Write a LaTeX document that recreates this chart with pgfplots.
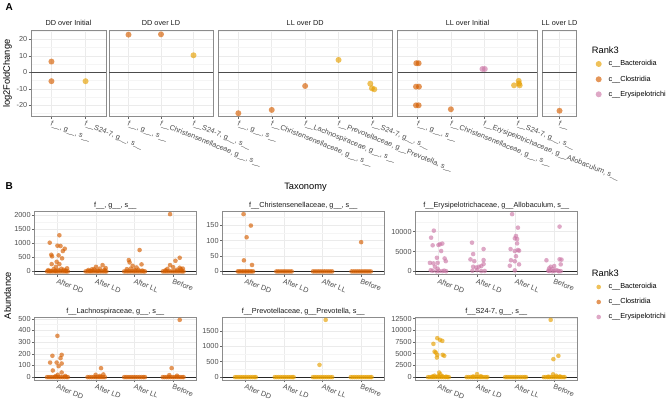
\documentclass[border=0pt]{standalone}
\usepackage{fontspec}
\setmainfont{Liberation Sans}
\usepackage{pgfplots}
\pgfplotsset{compat=1.18}
\definecolor{cBac}{HTML}{E69F00}
\definecolor{cClo}{HTML}{D55E00}
\definecolor{cEry}{HTML}{CC79A7}
\definecolor{gtick}{HTML}{4D4D4D}
\definecolor{gstrip}{HTML}{1A1A1A}
\newcommand{\ts}{\fontsize{7.3}{8.5}\selectfont}
\newcommand{\tls}{\fontsize{9.3}{11}\selectfont}
\pgfplotsset{
  gg/.style={
    scale only axis,
    axis line style={draw=black!45, line width=0.5pt},
    tick align=outside,
    xtick pos=left, ytick pos=left,
    major tick length=2.3pt,
    minor tick length=0pt,
    tick style={draw=black!60, line width=0.45pt},
    xmajorgrids, ymajorgrids, yminorgrids,
    major grid style={draw=black!8, line width=0.5pt},
    minor grid style={draw=black!4, line width=0.3pt},
    tick label style={font=\ts, text=gtick},
    yticklabel style={inner sep=1.2pt},
    xticklabel style={rotate=-22, anchor=north west, inner sep=1pt},
    scaled y ticks=false, scaled x ticks=false,
    xmin=0.4, anchor=south west,
  },
  gga/.style={gg, height=86pt, ymin=-26.9, ymax=25.2,
    ytick={-20,-10,0,10,20}, minor ytick={-25,-15,-5,5,15,25}},
  ggan/.style={gga, yticklabels={{},{},{},{},{}}, y tick style={draw=none}},
  ggb/.style={gg, width=162pt, height=63pt, xmax=4.6, xtick={1,2,3,4},
    xticklabels={After DD,After LD,After LL,Before}},
  ptA/.style={only marks, mark=*, mark size=3pt, color=#1,
    mark options={fill=#1, draw=#1, draw opacity=0, fill opacity=0.65}},
  ptB/.style={only marks, mark=*, mark size=2.3pt, color=#1,
    mark options={fill=#1, draw=#1, draw opacity=0, fill opacity=0.65}},
  zA/.style={black!70, line width=0.6pt, forget plot},
  zB/.style={black!85, line width=0.6pt, forget plot},
}
\begin{document}
\begin{tikzpicture}
\useasboundingbox (0,0) rectangle (669pt,404pt);

% ================= Panel A =================
\begin{axis}[gga, yticklabels={-20,-10,0,10,20}, at={(31pt,287.3pt)}, width=75pt, xmax=2.6, xtick={1,2},
  xticklabels={{f\_\_, g\_\_, s\_\_},{f\_\_S24-7, g\_\_, s\_\_}}]
\addplot[zA] coordinates {(0.4,0) (2.6,0)};
\addplot[ptA=cClo] coordinates {(1,6.5) (1,-5.4)};
\addplot[ptA=cBac] coordinates {(2,-5.4)};
\end{axis}

\begin{axis}[ggan, at={(109pt,287.3pt)}, width=104pt, xmax=3.6, xtick={1,2,3},
  xticklabels={{f\_\_, g\_\_, s\_\_},{f\_\_Christensenellaceae, g\_\_, s\_\_},{f\_\_S24-7, g\_\_, s\_\_}}]
\addplot[zA] coordinates {(0.4,0) (3.6,0)};
\addplot[ptA=cClo] coordinates {(1,22.8) (2,23.0)};
\addplot[ptA=cBac] coordinates {(3,10.3)};
\end{axis}

\begin{axis}[ggan, at={(218.3pt,287.3pt)}, width=173.7pt, xmax=5.6, xtick={1,2,3,4,5},
  xticklabels={{f\_\_, g\_\_, s\_\_},{f\_\_Christensenellaceae, g\_\_, s\_\_},{f\_\_Lachnospiraceae, g\_\_, s\_\_},{f\_\_Prevotellaceae, g\_\_Prevotella, s\_\_},{f\_\_S24-7, g\_\_, s\_\_}}]
\addplot[zA] coordinates {(0.4,0) (5.6,0)};
\addplot[ptA=cClo] coordinates {(1,-24.8) (2,-22.8) (3,-8.3)};
\addplot[ptA=cBac] coordinates {(4,7.5) (4.95,-6.9) (5.0,-9.7) (5.07,-10.3)};
\end{axis}

\begin{axis}[ggan, at={(397.7pt,287.3pt)}, width=139.6pt, xmax=4.6, xtick={1,2,3,4},
  xticklabels={{f\_\_, g\_\_, s\_\_},{f\_\_Christensenellaceae, g\_\_, s\_\_},{f\_\_Erysipelotrichaceae, g\_\_Allobaculum, s\_\_},{f\_\_S24-7, g\_\_, s\_\_}}]
\addplot[zA] coordinates {(0.4,0) (4.6,0)};
\addplot[ptA=cClo] coordinates {(0.96,5.5) (1.03,5.5) (0.95,-8.7) (1.04,-8.7) (0.95,-20) (1.03,-20) (2,-22.4)};
\addplot[ptA=cEry] coordinates {(2.95,2) (3.02,2)};
\addplot[ptA=cBac] coordinates {(4.04,-5.2) (3.9,-7.9) (4.07,-7.9) (4.05,-6.8)};
\end{axis}

\begin{axis}[ggan, at={(542.3pt,287.3pt)}, width=34.4pt, xmax=1.6, xtick={1},
  xticklabels={{f\_\_, g\_\_, s\_\_}}]
\addplot[zA] coordinates {(0.4,0) (1.6,0)};
\addplot[ptA=cClo] coordinates {(1,-23.3)};
\end{axis}

% ================= Panel B row 1 =================
\begin{axis}[ggb, at={(34.3pt,129.7pt)}, ymin=-101, ymax=2126,
  ytick={0,500,1000,1500,2000}, yticklabels={0,500,1000,1500,2000},
  minor ytick={250,750,1250,1750}]
\addplot[ptB=cClo] table[row sep=\\] {x y\\
0.73 0\\0.78 0\\0.83 0\\0.88 0\\0.93 0\\0.98 0\\1.03 0\\1.08 0\\1.13 0\\1.18 0\\1.23 0\\1.27 0\\
0.76 45\\0.90 80\\1.10 95\\1.21 30\\0.95 20\\1.16 60\\1.25 110\\0.82 15\\1.02 50\\
0.80 1016\\1.05 1279\\1.00 910\\1.08 899\\1.19 803\\1.14 721\\0.84 590\\0.86 533\\1.03 568\\1.12 462\\0.98 341\\0.85 259\\1.05 259\\0.96 163\\
1.73 0\\1.78 0\\1.83 0\\1.88 0\\1.93 0\\1.98 0\\2.03 0\\2.08 0\\2.13 0\\2.18 0\\2.23 0\\2.27 0\\
1.80 50\\1.90 80\\2.10 100\\2.22 60\\2.25 120\\1.85 20\\2.05 30\\1.95 70\\2.00 163\\2.17 224\\
2.73 0\\2.78 0\\2.83 0\\2.88 0\\2.93 0\\2.98 0\\3.03 0\\3.08 0\\3.13 0\\3.18 0\\3.23 0\\3.27 0\\
2.80 80\\3.10 60\\3.20 30\\2.90 100\\3.00 50\\2.85 401\\2.87 320\\3.13 757\\3.18 249\\2.95 200\\3.05 140\\
3.73 0\\3.78 0\\3.83 0\\3.88 0\\3.93 0\\3.98 0\\4.03 0\\4.08 0\\4.13 0\\4.18 0\\4.23 0\\4.27 0\\
3.92 2025\\4.17 483\\4.06 377\\3.92 224\\4.17 130\\4.00 150\\3.85 90\\4.25 100\\3.80 40\\4.10 60\\4.20 80\\
};
\addplot[zB] coordinates {(0.4,0) (4.6,0)};
\end{axis}

\begin{axis}[ggb, at={(222.3pt,129.7pt)}, ymin=-9.3, ymax=195.3,
  ytick={0,50,100,150}, yticklabels={0,50,100,150},
  minor ytick={25,75,125,175}]
\addplot[ptB=cClo] table[row sep=\\] {x y\\
0.80 0\\0.84 0\\0.88 0\\0.92 0\\0.96 0\\1.00 0\\1.04 0\\1.08 0\\1.12 0\\1.16 0\\1.20 0\\
0.95 186\\1.14 149\\1.03 111\\0.96 36\\1.17 21\\
1.80 0\\1.85 0\\1.90 0\\1.95 0\\2.00 0\\2.05 0\\2.10 0\\2.15 0\\2.20 0\\
2.75 0\\2.80 0\\2.85 0\\2.90 0\\2.95 0\\3.00 0\\3.05 0\\3.10 0\\3.15 0\\3.20 0\\3.25 0\\
3.75 0\\3.80 0\\3.85 0\\3.90 0\\3.95 0\\4.00 0\\4.05 0\\4.10 0\\4.15 0\\4.20 0\\4.25 0\\
4.00 95\\
};
\addplot[zB] coordinates {(0.4,0) (4.6,0)};
\end{axis}

\begin{axis}[ggb, at={(415.3pt,129.7pt)}, ymin=-720, ymax=15110,
  ytick={0,5000,10000}, yticklabels={0,5000,10000},
  minor ytick={2500,7500,12500}]
\addplot[ptB=cEry] table[row sep=\\] {x y\\
0.88 10250\\0.81 8480\\0.85 6560\\1.00 6650\\1.04 6820\\1.10 7000\\1.07 5130\\0.96 3430\\1.16 3260\\1.19 2580\\0.78 2150\\0.87 2000\\0.98 2150\\0.91 1180\\0.98 670\\0.85 170\\0.80 300\\1.02 100\\1.10 80\\1.15 200\\0.95 30\\1.20 50\\
1.87 7230\\2.17 5630\\1.90 4370\\1.83 3030\\1.93 2580\\2.17 2860\\1.90 1180\\1.98 1000\\2.05 1180\\2.11 1350\\2.17 1860\\2.00 340\\1.88 170\\2.11 80\\2.20 120\\
2.91 14390\\3.06 11000\\3.01 8900\\2.98 8310\\3.04 8140\\3.04 7050\\2.87 5620\\3.06 5390\\2.98 5130\\3.09 5220\\3.01 3820\\2.88 2810\\2.98 2560\\2.85 1430\\3.09 1770\\2.98 260\\
4.14 11260\\3.80 2810\\4.14 3050\\4.19 2970\\4.17 1770\\3.91 1180\\3.87 760\\4.00 1350\\3.95 590\\4.05 340\\4.10 170\\3.87 100\\4.17 60\\4.12 30\\3.95 40\\4.00 120\\3.85 200\\
};
\addplot[zB] coordinates {(0.4,0) (4.6,0)};
\end{axis}

% ================= Panel B row 2 =================
\begin{axis}[ggb, at={(34.3pt,24pt)}, ymin=-24.6, ymax=515.6,
  ytick={0,100,200,300,400,500}, yticklabels={0,100,200,300,400,500},
  minor ytick={50,150,250,350,450}]
\addplot[ptB=cClo] table[row sep=\\] {x y\\
0.73 0\\0.78 0\\0.83 0\\0.88 0\\0.93 0\\0.98 0\\1.03 0\\1.08 0\\1.13 0\\1.18 0\\1.23 0\\1.27 0\\
1.00 354\\0.87 183\\1.11 191\\1.08 163\\0.81 125\\0.98 125\\1.11 117\\1.03 94\\0.88 57\\1.11 40\\1.01 20\\0.95 8\\1.20 10\\
1.78 0\\1.83 0\\1.88 0\\1.93 0\\1.98 0\\2.03 0\\2.08 0\\2.13 0\\2.18 0\\2.23 0\\
2.13 77\\2.19 23\\1.99 20\\2.10 10\\
2.73 0\\2.78 0\\2.83 0\\2.88 0\\2.93 0\\2.98 0\\3.03 0\\3.08 0\\3.13 0\\3.18 0\\3.23 0\\3.27 0\\
3.73 0\\3.78 0\\3.83 0\\3.88 0\\3.93 0\\3.98 0\\4.03 0\\4.08 0\\4.13 0\\4.18 0\\4.23 0\\4.27 0\\
4.17 491\\3.96 77\\3.90 17\\4.10 12\\
};
\addplot[zB] coordinates {(0.4,0) (4.6,0)};
\end{axis}

\begin{axis}[ggb, at={(222.3pt,24pt)}, ymin=-93, ymax=1949,
  ytick={0,500,1000,1500}, yticklabels={0,500,1000,1500},
  minor ytick={250,750,1250,1750}]
\addplot[ptB=cBac] table[row sep=\\] {x y\\
0.73 0\\0.78 0\\0.83 0\\0.88 0\\0.93 0\\0.98 0\\1.03 0\\1.08 0\\1.13 0\\1.18 0\\1.23 0\\1.27 0\\
1.76 0\\1.81 0\\1.86 0\\1.91 0\\1.96 0\\2.01 0\\2.06 0\\2.11 0\\2.16 0\\2.21 0\\2.25 0\\
2.75 0\\2.80 0\\2.85 0\\2.90 0\\2.95 0\\3.00 0\\3.05 0\\3.10 0\\3.15 0\\3.20 0\\3.25 0\\
3.08 1856\\2.92 398\\
3.73 0\\3.78 0\\3.83 0\\3.88 0\\3.93 0\\3.98 0\\4.03 0\\4.08 0\\4.13 0\\4.18 0\\4.23 0\\4.27 0\\
};
\addplot[zB] coordinates {(0.4,0) (4.6,0)};
\end{axis}

\begin{axis}[ggb, at={(415.3pt,24pt)}, ymin=-611, ymax=12831,
  ytick={0,2500,5000,7500,10000,12500}, yticklabels={0,2500,5000,7500,10000,12500},
  minor ytick={1250,3750,6250,8750,11250}]
\addplot[ptB=cBac] table[row sep=\\] {x y\\
0.73 0\\0.78 0\\0.83 0\\0.88 0\\0.93 0\\0.98 0\\1.03 0\\1.08 0\\1.13 0\\1.18 0\\1.23 0\\1.27 0\\
0.97 8320\\1.04 7960\\1.10 7740\\0.87 7100\\0.90 5460\\0.93 5250\\0.97 4760\\0.96 4180\\1.11 4760\\1.15 4550\\1.02 980\\1.05 600\\0.90 300\\1.10 200\\0.85 150\\1.20 100\\1.00 250\\
1.73 0\\1.78 0\\1.83 0\\1.88 0\\1.93 0\\1.98 0\\2.03 0\\2.08 0\\2.13 0\\2.18 0\\2.23 0\\2.27 0\\
2.00 650\\2.10 200\\1.90 150\\
2.73 0\\2.78 0\\2.83 0\\2.88 0\\2.93 0\\2.98 0\\3.03 0\\3.08 0\\3.13 0\\3.18 0\\3.23 0\\3.27 0\\
3.73 0\\3.78 0\\3.83 0\\3.88 0\\3.93 0\\3.98 0\\4.03 0\\4.08 0\\4.13 0\\4.18 0\\4.23 0\\4.27 0\\
3.91 12220\\3.98 3840\\4.11 4550\\3.97 600\\4.05 300\\4.15 150\\3.85 100\\
};
\addplot[zB] coordinates {(0.4,0) (4.6,0)};
\end{axis}

% ================= Overlay: titles, strips, legends =================
\begin{axis}[at={(0pt,0pt)}, anchor=south west, scale only axis, width=669pt, height=404pt,
  xmin=0, xmax=669, ymin=0, ymax=404, y dir=reverse, hide axis, clip=false]
\node[anchor=base west, font=\bfseries\fontsize{10}{12}\selectfont] at (axis cs:2,11) {A};
\node[anchor=base west, font=\bfseries\fontsize{10}{12}\selectfont] at (axis cs:2,189) {B};
\node[rotate=90, font=\tls] at (axis cs:7.5,73.7) {log2FoldChange};
\node[rotate=90, font=\tls] at (axis cs:7.5,295.5) {Abundance};
\node[font=\tls] at (axis cs:305.5,187) {Taxonomy};
% strips A
\node[anchor=base, font=\ts, text=gstrip] at (axis cs:68.5,26) {DD over Initial};
\node[anchor=base, font=\ts, text=gstrip] at (axis cs:161,26) {DD over LD};
\node[anchor=base, font=\ts, text=gstrip] at (axis cs:305.2,26) {LL over DD};
\node[anchor=base, font=\ts, text=gstrip] at (axis cs:467.5,26) {LL over Initial};
\node[anchor=base, font=\ts, text=gstrip] at (axis cs:559.5,26) {LL over LD};
% strips B
\node[anchor=base, font=\ts, text=gstrip] at (axis cs:115.3,207.5) {f\_\_, g\_\_, s\_\_};
\node[anchor=base, font=\ts, text=gstrip] at (axis cs:303.3,207.5) {f\_\_Christensenellaceae, g\_\_, s\_\_};
\node[anchor=base, font=\ts, text=gstrip] at (axis cs:496.3,207.5) {f\_\_Erysipelotrichaceae, g\_\_Allobaculum, s\_\_};
\node[anchor=base, font=\ts, text=gstrip] at (axis cs:115.3,313) {f\_\_Lachnospiraceae, g\_\_, s\_\_};
\node[anchor=base, font=\ts, text=gstrip] at (axis cs:303.3,313) {f\_\_Prevotellaceae, g\_\_Prevotella, s\_\_};
\node[anchor=base, font=\ts, text=gstrip] at (axis cs:496.3,313) {f\_\_S24-7, g\_\_, s\_\_};
% legend A
\node[anchor=base west, font=\tls, inner sep=0pt] at (axis cs:591.7,53.5) {Rank3};
\addplot[ptA=cBac] coordinates {(598.7,64)};
\addplot[ptA=cClo] coordinates {(598.7,79.3)};
\addplot[ptA=cEry] coordinates {(598.7,94.3)};
\node[anchor=west, font=\ts, inner sep=0pt] at (axis cs:608.3,64) {c\_\_Bacteroidia};
\node[anchor=west, font=\ts, inner sep=0pt] at (axis cs:608.3,79.3) {c\_\_Clostridia};
\node[anchor=west, font=\ts, inner sep=0pt] at (axis cs:608.3,94.3) {c\_\_Erysipelotrichi};
% legend B
\node[anchor=base west, font=\tls, inner sep=0pt] at (axis cs:591.7,276.5) {Rank3};
\addplot[ptB=cBac] coordinates {(598.7,287)};
\addplot[ptB=cClo] coordinates {(598.7,302)};
\addplot[ptB=cEry] coordinates {(598.7,317)};
\node[anchor=west, font=\ts, inner sep=0pt] at (axis cs:608.3,287) {c\_\_Bacteroidia};
\node[anchor=west, font=\ts, inner sep=0pt] at (axis cs:608.3,302) {c\_\_Clostridia};
\node[anchor=west, font=\ts, inner sep=0pt] at (axis cs:608.3,317) {c\_\_Erysipelotrichi};
\end{axis}
\end{tikzpicture}
\end{document}
